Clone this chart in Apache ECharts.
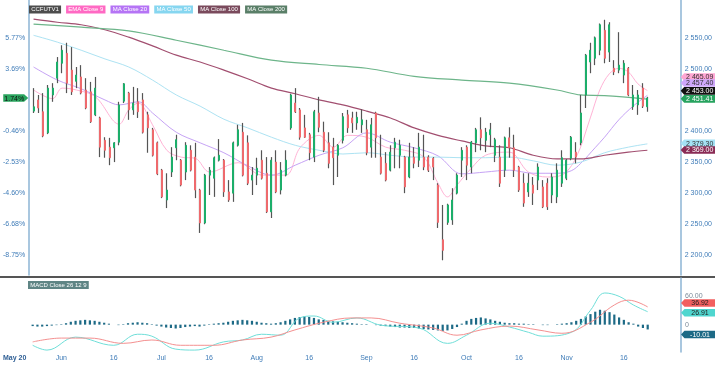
<!DOCTYPE html>
<html><head><meta charset="utf-8">
<script src="https://cdn.jsdelivr.net/npm/echarts@6/dist/echarts.min.js"></script>
<style>html,body{margin:0;padding:0;background:#fff}#c{width:715px;height:366px}</style>
</head><body><div id="c"></div>
<script>
// ---- candle data (daily OHLC) ----
const open  = [2432,2450,2431,2397,2458,2485,2509,2525,2498,2480,2487,2466,2463,2426,2421,2385,2374,2373,2382,2448,2461,2434,2447,2450,2426,2402,2381,2337,2289,2334,2373,2353,2334,2369,2358,2305,2252,2329,2324,2353,2353,2302,2300,2377,2398,2381,2321,2329,2353,2332,2270,2350,2305,2329,2405,2445,2434,2405,2394,2358,2429,2398,2381,2374,2361,2385,2426,2421,2413,2410,2402,2374,2429,2358,2348,2337,2373,2361,2358,2326,2358,2353,2358,2358,2356,2313,2225,2253,2257,2300,2353,2374,2342,2381,2402,2385,2394,2361,2358,2337,2389,2373,2342,2316,2302,2313,2321,2310,2316,2297,2294,2316,2324,2356,2366,2381,2458,2511,2517,2530,2562,2527,2501,2498,2490,2501,2439,2442,2469,2439];
const high  = [2469,2458,2461,2474,2477,2519,2538,2542,2535,2503,2506,2485,2479,2487,2423,2390,2389,2382,2447,2477,2463,2471,2469,2461,2431,2405,2383,2339,2332,2374,2394,2355,2382,2377,2381,2307,2331,2342,2359,2387,2355,2321,2383,2410,2413,2393,2342,2357,2369,2358,2358,2369,2350,2369,2460,2469,2437,2426,2397,2434,2455,2415,2398,2389,2379,2429,2434,2431,2431,2435,2418,2421,2431,2394,2366,2377,2389,2386,2360,2381,2374,2397,2394,2361,2358,2316,2281,2283,2308,2332,2374,2377,2384,2405,2422,2405,2413,2389,2377,2391,2406,2394,2344,2332,2332,2326,2348,2321,2324,2332,2348,2369,2355,2392,2382,2458,2524,2542,2552,2573,2579,2575,2514,2559,2514,2503,2474,2466,2477,2455];
const low   = [2429,2429,2390,2395,2447,2477,2493,2461,2458,2469,2459,2435,2413,2424,2358,2357,2345,2350,2377,2445,2418,2426,2421,2396,2365,2359,2329,2292,2276,2326,2353,2311,2321,2335,2292,2236,2250,2297,2294,2351,2294,2286,2286,2375,2327,2313,2297,2313,2322,2268,2260,2300,2298,2327,2402,2429,2386,2389,2353,2350,2398,2366,2340,2313,2326,2380,2397,2397,2402,2397,2361,2357,2357,2330,2319,2335,2340,2340,2300,2324,2340,2342,2337,2334,2321,2244,2192,2249,2249,2298,2326,2321,2332,2366,2369,2366,2374,2350,2310,2326,2357,2326,2302,2278,2294,2281,2305,2276,2273,2284,2284,2310,2321,2353,2348,2377,2437,2493,2506,2522,2509,2511,2490,2493,2477,2456,2434,2426,2437,2431];
const close = [2439,2437,2392,2469,2469,2511,2530,2477,2463,2490,2461,2437,2415,2469,2374,2369,2357,2381,2442,2476,2434,2445,2431,2398,2405,2361,2331,2294,2305,2358,2386,2313,2377,2337,2305,2252,2329,2337,2357,2361,2302,2289,2381,2402,2329,2316,2329,2340,2324,2270,2353,2302,2337,2353,2458,2431,2390,2390,2365,2431,2406,2369,2348,2357,2377,2423,2405,2413,2422,2418,2365,2410,2389,2332,2321,2366,2382,2377,2310,2358,2348,2374,2342,2337,2342,2253,2208,2281,2289,2329,2369,2345,2382,2402,2389,2398,2402,2386,2316,2389,2373,2337,2305,2284,2316,2300,2342,2278,2278,2326,2337,2357,2353,2390,2358,2429,2522,2530,2550,2571,2517,2571,2495,2506,2509,2458,2458,2458,2440,2453];

// ---- indicator lines: [candle index, value] ----
const ema9  = [[0,2466],[4,2452],[6,2469],[9,2466],[13,2455],[18,2411],[20,2434],[22,2445],[25,2410],[28,2369],[31,2358],[34,2356],[37,2334],[43,2349],[48,2329],[53,2329],[56,2373],[60,2393],[63,2374],[66,2393],[70,2390],[74,2374],[78,2369],[82,2358],[85,2316],[87,2294],[89,2313],[92,2340],[95,2361],[100,2366],[104,2334],[108,2326],[111,2329],[114,2357],[117,2421],[119,2466],[121,2492],[123,2501],[125,2495],[127,2476],[129,2465.09]];
const ma20  = [[0,2503],[5,2482],[10,2468],[15,2450],[18,2442],[22,2447],[25,2429],[30,2398],[35,2381],[40,2365],[45,2344],[50,2329],[55,2345],[60,2361],[65,2373],[70,2397],[75,2382],[80,2373],[85,2360],[90,2331],[95,2334],[100,2337],[105,2332],[110,2332],[113,2336],[115,2348],[118,2373],[120,2390],[123,2418],[126,2440],[129,2457.40]];
const ma50  = [[0,2554],[5,2543],[10,2530],[15,2516],[20,2503],[25,2482],[30,2458],[35,2440],[40,2419],[45,2405],[50,2390],[55,2377],[60,2369],[65,2363],[70,2365],[75,2361],[80,2358],[85,2358],[90,2357],[95,2357],[100,2358],[105,2352],[110,2345],[115,2350],[120,2365],[125,2374],[129,2379.30]];
const ma100 = [[0,2580],[5,2575],[10,2571],[15,2563],[20,2551],[25,2537],[30,2522],[35,2511],[40,2498],[45,2484],[50,2469],[55,2460],[60,2450],[65,2442],[70,2432],[75,2421],[80,2405],[85,2393],[90,2384],[95,2376],[100,2373],[105,2361],[110,2355],[115,2355],[120,2361],[125,2366],[129,2369.00]];
const ma200 = [[0,2572],[10,2567],[20,2561],[30,2546],[40,2530],[50,2514],[60,2507],[70,2501],[80,2488],[90,2482],[100,2477],[110,2466],[115,2458],[120,2457],[129,2451.41]];

// ---- MACD (26,12,9) ----
const macdLine = [[0,-43],[3,-53],[9,-26],[17,-43],[22,-20],[25,-24],[30,-51],[34,-53],[40,-36],[44,-32],[48,-20],[52,-22],[56,14],[59,18],[63,5],[68,14],[73,-1],[81,-7],[87,-39],[91,-22],[96,3],[100,-5],[104,-16],[107,-24],[113,-16],[117,30],[120,66],[123,59],[126,41],[129,26.91]];
const signalLine = [[0,-36],[6,-28],[12,-28],[19,-39],[25,-32],[31,-43],[38,-43],[44,-32],[50,-26],[55,-11],[61,5],[67,14],[71,14],[77,3],[84,-7],[89,-22],[94,-11],[100,-3],[106,-11],[111,-18],[117,5],[122,41],[125,51],[129,36.92]];
const histogram = [-3,-4,-4,-3,-2,-1,1,3, 6,8,9,10,9,8,6,4, 2,0,-1, 1,3,4,5,4,3, 1,-2,-4,-6,-7,-8,-7,-5,-4, -3,-4,-2,1,2,3,4, 6,8,9,10,9,8,6, 4,3,2,3,5, 8,11,14,16,17,16,14,11, 10,8,7,6,5,4, 3,2,1,1,0,-1, -2,-3,-4,-5,-6,-6,-7,-7,-8,-9,-10,-11,-12,-13,-12,-9, -5,2,8,12,14,15,13,11, 8,6,4,3,3,2,2,1,1,0,-1,-1, 0,1,2,3,5,8, 12,17,22,27,31,29,26,21,15, 10,5,2, -4,-7,-10.01];

// ---- axis labels ----
const dateTicks = {0:'May 20',6:'Jun',17:'16',27:'Jul',37:'16',47:'Aug',58:'16',70:'Sep',80:'16',91:'Oct',102:'16',112:'Nov',124:'16'};
const pctBase = 2411;   // price that maps to 0 % on the left scale
const categories = close.map((_, i) => 'd' + i);

const FONT = '"Liberation Sans", Arial, sans-serif';
const AXC = '#3f7cb8';
const FS = 7;
const N = close.length;
const CW = 4.786;                 // px per candle
const GL = 27.9, GW = CW * N;     // grid left / width
const TAG_DX = 698.5 - (GL + (N - 0.5) * CW);

const thousands = s => s.replace(/\B(?=(\d{3})+(?!\d))/g, ' ');
const tagText = v => { const [a, b] = v.toFixed(2).split('.'); return thousands(a) + '.' + b; };
const TAG_PATH = 'path://M0,5 L4,0 L40,0 L40,10 L4,10 Z';
function rightTag(val, bg, fg, dy, text) {
  return {
    coord: [N - 1, val], symbol: TAG_PATH, symbolSize: [35, 7.6], symbolKeepAspect: false,
    symbolOffset: [TAG_DX, dy], itemStyle: { color: bg },
    label: { show: true, position: 'inside', formatter: () => text || tagText(val), color: fg, fontSize: FS, fontFamily: FONT, offset: [1.5, 0.5] }
  };
}
const last = a => a[a.length - 1][1];

const bodies = close.map((c, i) => [open[i], c, Math.min(open[i], c), Math.max(open[i], c)]);
const wicks = close.map((c, i) => [open[i], c, low[i], high[i]]);

const lineS = (name, data, color, width) => ({
  name, type: 'line', xAxisIndex: 0, yAxisIndex: 0, data, smooth: 0.35, showSymbol: false,
  lineStyle: { color, width }, itemStyle: { color }, silent: true, z: 3,
  markPoint: { silent: true, animation: false, data: [] }
});

const sEma = lineS('EMA Close 9', ema9, '#ffb3d6', 1);
const sMa20 = lineS('MA Close 20', ma20, '#c6a3f5', 1);
const sMa50 = lineS('MA Close 50', ma50, '#ade3f3', 1);
const sMa100 = lineS('MA Close 100', ma100, '#a24f70', 1.2);
const sMa200 = lineS('MA Close 200', ma200, '#6db58a', 1.2);
sEma.markPoint.data = [rightTag(last(ema9), '#ffa6d3', '#333', -13.6)];
sMa20.markPoint.data = [rightTag(last(ma20), '#cfa8fb', '#333', -12.4)];
sMa50.markPoint.data = [rightTag(last(ma50), '#a5e2f5', '#333', -0.6)];
sMa100.markPoint.data = [rightTag(last(ma100), '#8a2b55', '#fff', -0.3)];
sMa200.markPoint.data = [rightTag(last(ma200), '#27a35f', '#fff', -0.2)];

const LEFT_PATH = 'path://M0,0 L20,0 L24,5 L20,10 L0,10 Z';
const pctText = ((close[N - 1] / pctBase - 1) * 100).toFixed(2) + '%';

const macdTag = (val, bg, fg, dy, text) => ({ coord: [N - 1, val], symbol: TAG_PATH, symbolSize: [35, 7.6], symbolKeepAspect: false,
  symbolOffset: [TAG_DX, dy], itemStyle: { color: bg },
  label: { show: true, position: 'inside', formatter: () => text, color: fg, fontSize: FS, fontFamily: FONT, offset: [1.5, 0.5] } });

const option = {
  animation: false,
  backgroundColor: '#fff',
  textStyle: { fontFamily: FONT },
  legend: {
    left: 23, top: 5.5, padding: 0, itemWidth: 0, itemHeight: 0, itemGap: -1, selectedMode: false,
    textStyle: { fontSize: 6, fontFamily: FONT, color: '#fff', padding: [1.2, 2.2, 0.8, 2.2] },
    data: [
      { name: 'CCFUTV1', textStyle: { backgroundColor: '#4d4d4d' } },
      { name: 'EMA Close 9', textStyle: { backgroundColor: '#ff69c3' } },
      { name: 'MA Close 20', textStyle: { backgroundColor: '#b574f5' } },
      { name: 'MA Close 50', textStyle: { backgroundColor: '#86d6f0' } },
      { name: 'MA Close 100', textStyle: { backgroundColor: '#7a4a5c' } },
      { name: 'MA Close 200', textStyle: { backgroundColor: '#5a7f68' } }
    ]
  },
  title: {
    text: 'MACD Close 26 12 9', left: 28, top: 281, padding: [1.2, 2.2, 0.8, 2.2],
    backgroundColor: '#5f8585', textStyle: { fontSize: 6, color: '#fff', fontWeight: 'normal', fontFamily: FONT }
  },
  graphic: [{ type: 'rect', left: 0, top: 276, shape: { width: 715, height: 2 }, style: { fill: '#555' }, silent: true }],
  grid: [
    { left: GL, top: 0, width: GW, height: 275 },
    { left: GL, top: 278.1, width: GW, height: 73.9 }
  ],
  xAxis: [
    { type: 'category', gridIndex: 0, data: categories, boundaryGap: true, axisLine: { show: false }, axisTick: { show: false }, axisLabel: { show: false }, splitLine: { show: false } },
    { type: 'category', gridIndex: 1, data: categories, boundaryGap: true, axisLine: { show: false }, axisTick: { show: false }, splitLine: { show: false },
      axisLabel: {
        interval: (i) => dateTicks[i] !== undefined, margin: 2.5, fontSize: FS, color: AXC, fontFamily: FONT,
        formatter: (v, i) => i === 0 ? '{m|' + dateTicks[0] + '}' : (dateTicks[i] || ''),
        rich: { m: { fontSize: FS, fontWeight: 'bold', color: '#2f5f95', padding: [0, 36, 0, 0] } }
      } }
  ],
  yAxis: [
    { type: 'value', gridIndex: 0, position: 'right', offset: 31, min: 2168.3, max: 2610.8, splitNumber: 9, minInterval: 50, maxInterval: 50,
      axisLine: { show: true, lineStyle: { color: '#8db4d4', width: 1.5 } }, axisTick: { show: false }, splitLine: { show: false },
      axisLabel: { margin: 4, fontSize: FS, color: AXC, fontFamily: FONT, showMinLabel: false, showMaxLabel: false,
        formatter: v => (v % 50 !== 0 || v === 2450 || v > 2575) ? '' : thousands(String(v)) + ',00' } },
    { type: 'value', gridIndex: 0, position: 'left', offset: 2, min: 2168.3, max: 2610.8, splitNumber: 9, minInterval: 50, maxInterval: 50,
      axisLine: { show: true, lineStyle: { color: '#8db4d4', width: 1.5 } }, axisTick: { show: false }, splitLine: { show: false },
      axisLabel: { margin: 4, fontSize: FS, color: AXC, fontFamily: FONT, showMinLabel: false, showMaxLabel: false,
        formatter: v => (v % 50 !== 0 || v === 2450 || v > 2575) ? '' : ((v / pctBase - 1) * 100).toFixed(2) + '%' } },
    { type: 'value', gridIndex: 1, position: 'right', offset: 31, min: -57, max: 97, interval: 3,
      axisLine: { show: true, lineStyle: { color: '#8db4d4', width: 1.5 } }, axisTick: { show: false }, splitLine: { show: false },
      axisLabel: { margin: 4, fontSize: FS, color: '#7a8a99', fontFamily: FONT, showMinLabel: false, showMaxLabel: false,
        formatter: v => v === 60 ? '60.00' : (v === 0 ? '0' : '') } }
  ],
  series: [
    { name: 'CCFUTV1', type: 'candlestick', xAxisIndex: 0, yAxisIndex: 0, data: wicks, barWidth: 0.8, silent: true, z: 4,
      itemStyle: { color: '#555', color0: '#555', borderColor: '#555', borderColor0: '#555', borderWidth: 1.2 } },
    { name: 'bodies', type: 'candlestick', xAxisIndex: 0, yAxisIndex: 0, data: bodies, barWidth: 1.5, silent: true, z: 5,
      itemStyle: { color: '#1cae6a', color0: '#ee6a6d', borderColor: '#1cae6a', borderColor0: '#ee6a6d', borderWidth: 1 },
      markPoint: { silent: true, animation: false, data: [
        rightTag(close[N - 1], '#111', '#fff', -7.2),
        { coord: [0, close[N - 1]], symbol: LEFT_PATH, symbolSize: [25, 7.6], symbolKeepAspect: false,
          symbolOffset: [12.5 - (GL + 0.5 * CW), 0], itemStyle: { color: '#2aa55e' },
          label: { show: true, position: 'inside', formatter: () => pctText, color: '#111', fontSize: FS, fontFamily: FONT, offset: [-1.5, 0.5] } }
      ] } },
    sEma, sMa20, sMa50, sMa100, sMa200,
    { name: 'MACD hist', type: 'bar', xAxisIndex: 1, yAxisIndex: 2, data: histogram, barWidth: 2.2, silent: true,
      itemStyle: { color: '#1d6a86' },
      markPoint: { silent: true, animation: false, data: [ macdTag(histogram[N - 1], '#1d6a86', '#fff', 5, histogram[N - 1].toFixed(2)) ] } },
    { name: 'MACD', type: 'line', xAxisIndex: 1, yAxisIndex: 2, data: macdLine, smooth: 0.4, showSymbol: false, silent: true,
      lineStyle: { color: '#6fded8', width: 1 },
      markPoint: { silent: true, animation: false, data: [ macdTag(last(macdLine), '#4fd6cf', '#222', 1, last(macdLine).toFixed(2)) ] } },
    { name: 'Signal', type: 'line', xAxisIndex: 1, yAxisIndex: 2, data: signalLine, smooth: 0.4, showSymbol: false, silent: true,
      lineStyle: { color: '#f49090', width: 1 },
      markPoint: { silent: true, animation: false, data: [ macdTag(last(signalLine), '#f25f5f', '#222', -4, last(signalLine).toFixed(2)) ] } }
  ]
};
const chart = echarts.init(document.getElementById('c'));
chart.setOption(option);
</script>
</body></html>
